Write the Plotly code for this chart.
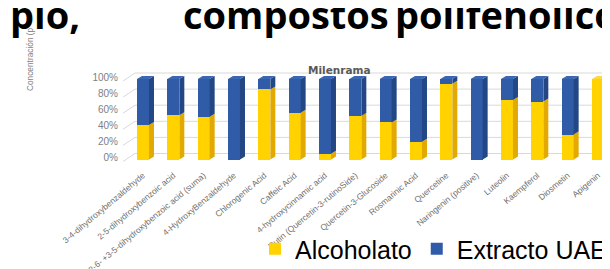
import plotly.graph_objects as go

# ---------------- data ----------------
categories = [
    "3-4-dihydroxybenzaldehyde",
    "2-5-dihydroxybenzoic acid",
    "2-6- +3-5-dihydroxybenzoic acid (suma)",
    "4-HydroxyBenzaldehyde",
    "Chlorogenic Acid",
    "Caffeic Acid",
    "4-hydroxycinnamic acid",
    "Rutin (Quercetin-3-rutinoSide)",
    "Quercetin-3-Glucoside",
    "Rosmarinic Acid",
    "Quercetine",
    "Naringenin (positive)",
    "Luteolin",
    "Kaempferol",
    "Diosmetin",
    "Apigenin",
]
alcoholato = [43, 55, 53, 0, 87, 58, 7, 54, 46, 22, 94, 0, 74, 72, 31, 100]
extracto_uae = [57, 45, 47, 100, 13, 42, 93, 46, 54, 78, 6, 100, 26, 28, 69, 0]
series_names = ["Alcoholato", "Extracto UAE"]
y_ticks = [0, 20, 40, 60, 80, 100]
y_tick_labels = ["0%", "20%", "40%", "60%", "80%", "100%"]
chart_title = "Milenrama"
y_title = "Concentración (p"
header_words = ["plo,", "compostos", "polifenolicos"]

# ---------------- layout geometry ----------------
W, H = 610, 269
ML, MR, MT, MB = 115, 5, 60, 109
plot_w = W - ML - MR
plot_h = H - MT - MB
x_range = [-0.659, 15.495]
y_range = [-10.56, 113.66]
ppx = plot_w / (x_range[1] - x_range[0])
ppy = plot_h / (y_range[1] - y_range[0])
bw = 12 / ppx
dx = 5 / ppx
dy = 3 / ppy

YEL, YEL_SIDE, YEL_TOP = "#FFD200", "#E2AA00", "#FFD83C"
BLU, BLU_SIDE, BLU_TOP = "#2F5BA7", "#234785", "#3A66B2"
GRID = "#D9D9D9"

idx = list(range(len(categories)))

fig = go.Figure()
fig.add_trace(go.Bar(x=idx, y=alcoholato, width=bw, name=series_names[0],
                     marker=dict(color=YEL, line=dict(width=0))))
fig.add_trace(go.Bar(x=idx, y=extracto_uae, width=bw, name=series_names[1],
                     marker=dict(color=BLU, line=dict(width=0))))

shapes = []
# back-wall gridlines with the 3D slant on the left
for v in y_ticks:
    start = v - 2 / ppy
    back = v + 6 / ppy
    x0 = x_range[0]
    x1 = x0 + 12 / ppx
    shapes.append(dict(type="path", xref="x", yref="y", layer="below",
                       path=f"M{x0},{start} L{x1},{back} L{x_range[1]},{back}",
                       line=dict(color=GRID, width=1)))

# 3D side and top faces derived from the data
for i, a, b in zip(idx, alcoholato, extracto_uae):
    xr = i + bw / 2
    xl = i - bw / 2
    segs = [(0, a, YEL_SIDE), (a, a + b, BLU_SIDE)]
    for y0, y1, col in segs:
        if y1 - y0 <= 0:
            continue
        shapes.append(dict(type="path", xref="x", yref="y", layer="above",
                           path=f"M{xr},{y0} L{xr+dx},{y0+dy} L{xr+dx},{y1+dy} L{xr},{y1} Z",
                           fillcolor=col, line=dict(width=0)))
    top = a + b
    tcol = BLU_TOP if b > 0 else YEL_TOP
    shapes.append(dict(type="path", xref="x", yref="y", layer="above",
                       path=f"M{xl},{top} L{xl+dx},{top+dy} L{xr+dx},{top+dy} L{xr},{top} Z",
                       fillcolor=tcol, line=dict(width=0)))


def px_x(p):
    return (p - ML) / plot_w


def px_y(p):
    return (MT + plot_h - p) / plot_h


annotations = [
    dict(text=f"<b>{chart_title}</b>", xref="paper", yref="paper",
         x=px_x(331), y=px_y(62), showarrow=False, xanchor="center", yanchor="middle",
         font=dict(family="DejaVu Sans", size=10.5, color="#595959")),
    dict(text=y_title, xref="paper", yref="paper", textangle=-90,
         x=px_x(21.5), y=px_y(51.5), showarrow=False, xanchor="center", yanchor="middle",
         font=dict(family="Liberation Sans", size=8.3, color="#7F7F7F")),
]
header_x = [0, 173, 385]
for w, hx in zip(header_words, header_x):
    annotations.append(dict(text=f"<b>{w}</b>", xref="paper", yref="paper",
                            x=px_x(hx), y=px_y(34), showarrow=False,
                            xanchor="left", yanchor="bottom",
                            font=dict(family="Open Sans", size=38, color="#000000")))

fig.update_layout(
    width=W, height=H,
    margin=dict(l=ML, r=MR, t=MT, b=MB, pad=0, autoexpand=False),
    paper_bgcolor="white", plot_bgcolor="white",
    barmode="stack", bargap=0,
    showlegend=True,
    legend=dict(orientation="h", x=px_x(247), y=px_y(241), xanchor="left", yanchor="middle",
                font=dict(family="Liberation Sans", size=25, color="#000000"),
                bgcolor="rgba(0,0,0,0)", traceorder="normal"),
    shapes=shapes,
    annotations=annotations,
    xaxis=dict(range=x_range, tickmode="array", tickvals=idx, ticktext=categories,
               tickangle=-40, showgrid=False, zeroline=False, showline=False, ticks="",
               automargin=False,
               tickfont=dict(family="Liberation Sans", size=8.5, color="#6E6E6E")),
    yaxis=dict(range=y_range, tickmode="array", tickvals=y_ticks, ticktext=y_tick_labels,
               showgrid=False, zeroline=False, showline=False, ticks="",
               automargin=False, ticklabelstandoff=4, ticklabelshift=-2,
               tickfont=dict(family="Liberation Sans", size=10, color="#7F7F7F")),
)

fig.write_html("out.html")
